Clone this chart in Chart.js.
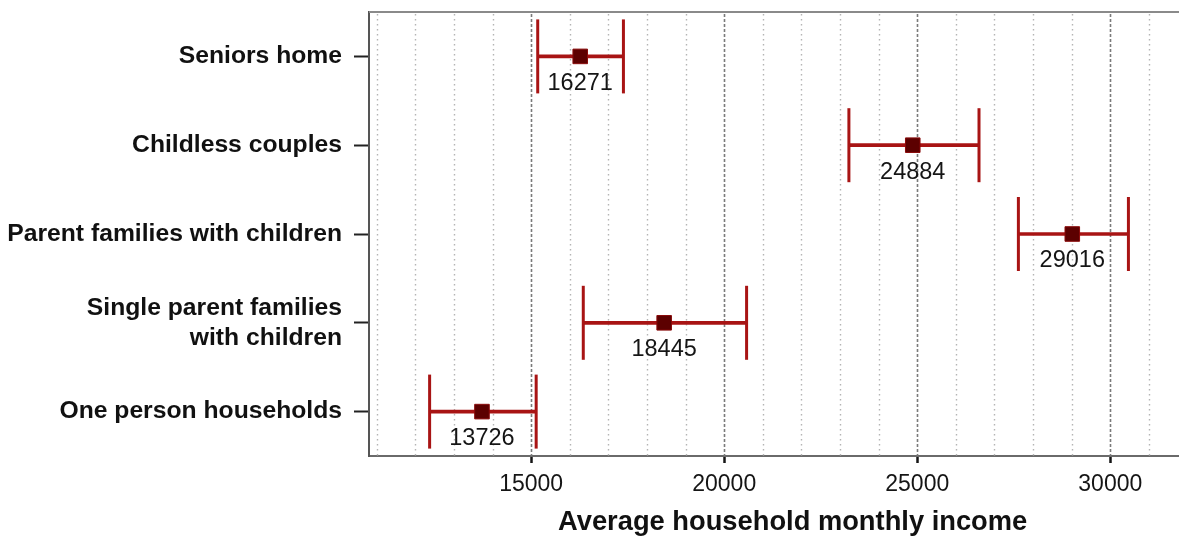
<!DOCTYPE html>
<html>
<head>
<meta charset="utf-8">
<title>Average household monthly income</title>
<script src="https://cdn.jsdelivr.net/npm/chart.js@4/dist/chart.umd.min.js"></script>
<style>
  html, body { margin: 0; padding: 0; background: #ffffff; }
  #wrap { width: 1179px; height: 536px; }
</style>
</head>
<body>
<div id="wrap"><canvas id="chart" width="1179" height="536"></canvas></div>
<script>
// Household types, top to bottom
const categories = [
  'Seniors home',
  'Childless couples',
  'Parent families with children',
  ['Single parent families', 'with children'],
  'One person households'
];
// Mean monthly income per household type
const meanIncome = [16271, 24884, 29016, 18445, 13726];
// Interval bounds around each mean
const lowerBound = [15170, 23230, 27620, 16350, 12370];
const upperBound = [17390, 26600, 30470, 20580, 15130];
// Labelled ticks on the income axis
const xTickValues = [15000, 20000, 25000, 30000];
const xMin = 10800;
const xMax = 31780;

const FONT = "'Liberation Sans', Arial, Helvetica, sans-serif";
const BAR_RED = '#a81414';
const MEAN_RED = '#5c0000';

const intervals = lowerBound.map((lo, i) => [lo, upperBound[i]]);
const lowCaps = lowerBound.map((v, i) => ({ x: v, y: i }));
const highCaps = upperBound.map((v, i) => ({ x: v, y: i }));
const means = meanIncome.map((v, i) => ({ x: v, y: i }));

// Vertical guides: dotted every 1000, dashed every 5000
const gridPlugin = {
  id: 'incomeGrid',
  beforeDatasetsDraw(chart) {
    const { ctx, chartArea, scales } = chart;
    const xs = scales.x;
    ctx.save();
    for (let v = Math.ceil(xMin / 1000) * 1000; v <= xMax; v += 1000) {
      const px = Math.round(xs.getPixelForValue(v)) + 0.5;
      const major = v % 5000 === 0;
      ctx.beginPath();
      ctx.strokeStyle = major ? '#7a7a7a' : '#b4b4b4';
      ctx.lineWidth = major ? 1.6 : 1.4;
      ctx.setLineDash(major ? [3, 2] : [1.5, 3.5]);
      ctx.moveTo(px, chartArea.top + 2);
      ctx.lineTo(px, chartArea.bottom);
      ctx.stroke();
    }
    ctx.setLineDash([]);
    // upper frame line
    ctx.beginPath();
    ctx.strokeStyle = '#8a8a8a';
    ctx.lineWidth = 2;
    ctx.moveTo(chartArea.left, chartArea.top);
    ctx.lineTo(chartArea.right, chartArea.top);
    ctx.stroke();
    ctx.restore();
  }
};

// Value text under each mean marker, plus the axis title
const labelPlugin = {
  id: 'meanLabels',
  afterDatasetsDraw(chart) {
    const { ctx, chartArea } = chart;
    const meta = chart.getDatasetMeta(3);
    ctx.save();
    ctx.font = '23.5px ' + FONT;
    ctx.fillStyle = '#151515';
    ctx.textAlign = 'center';
    ctx.textBaseline = 'middle';
    meta.data.forEach((pt, i) => {
      ctx.fillText(String(meanIncome[i]), pt.x, pt.y + 27);
    });
    ctx.font = 'bold 27.3px ' + FONT;
    ctx.fillStyle = '#111111';
    const cx = chartArea.left + (chartArea.right - chartArea.left) * 0.523;
    ctx.fillText('Average household monthly income', cx, 522);
    ctx.restore();
  }
};

new Chart(document.getElementById('chart'), {
  type: 'bar',
  data: {
    labels: categories,
    datasets: [
      {
        type: 'bar',
        indexAxis: 'y',
        data: intervals,
        backgroundColor: BAR_RED,
        borderWidth: 0,
        barThickness: 3,
        order: 3
      },
      {
        type: 'scatter',
        data: lowCaps,
        pointStyle: 'line',
        rotation: 90,
        radius: 37,
        borderWidth: 3,
        borderColor: BAR_RED,
        clip: false,
        order: 2
      },
      {
        type: 'scatter',
        data: highCaps,
        pointStyle: 'line',
        rotation: 90,
        radius: 37,
        borderWidth: 3,
        borderColor: BAR_RED,
        clip: false,
        order: 2
      },
      {
        type: 'scatter',
        data: means,
        pointStyle: 'rect',
        radius: 10.3,
        borderWidth: 1,
        borderColor: '#8a0a0a',
        backgroundColor: MEAN_RED,
        clip: false,
        order: 1
      }
    ]
  },
  options: {
    indexAxis: 'y',
    responsive: false,
    animation: false,
    devicePixelRatio: 1,
    layout: { autoPadding: false, padding: { top: 12, right: 0, left: 0, bottom: 0 } },
    plugins: {
      legend: { display: false },
      tooltip: { enabled: false },
      title: { display: false }
    },
    scales: {
      x: {
        type: 'linear',
        position: 'bottom',
        min: xMin,
        max: xMax,
        afterBuildTicks(scale) {
          scale.ticks = xTickValues.map(v => ({ value: v }));
        },
        afterFit(scale) {
          scale.height = 80;
          scale.paddingLeft = 0;
          scale.paddingRight = 0;
        },
        ticks: {
          autoSkip: false,
          maxRotation: 0,
          padding: 8,
          color: '#151515',
          font: { family: FONT, size: 23 },
          callback: (v) => String(v)
        },
        grid: {
          display: true,
          drawOnChartArea: false,
          drawTicks: true,
          tickLength: 7,
          tickWidth: 2.5,
          tickColor: '#151515'
        },
        border: { display: true, color: '#6a6a6a', width: 2 }
      },
      y: {
        type: 'category',
        position: 'left',
        offset: true,
        afterFit(scale) {
          scale.width = 369;
          scale.paddingTop = 0;
          scale.paddingBottom = 0;
        },
        ticks: {
          autoSkip: false,
          padding: 12,
          color: '#111111',
          font: { family: FONT, size: 24.7, weight: 'bold', lineHeight: 1.22 }
        },
        grid: {
          display: true,
          drawOnChartArea: false,
          drawTicks: true,
          offset: false,
          tickLength: 15,
          tickWidth: 2,
          tickColor: '#222222'
        },
        border: { display: true, color: '#555555', width: 2 }
      }
    }
  },
  plugins: [gridPlugin, labelPlugin]
});
</script>
</body>
</html>
